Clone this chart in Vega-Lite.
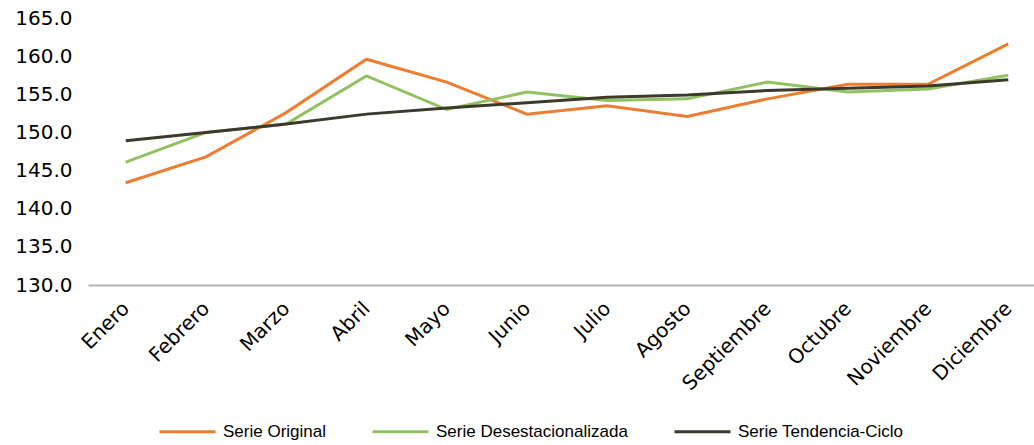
{
  "$schema": "https://vega.github.io/schema/vega-lite/v6.json",
  "autosize": {"type": "none"},
  "padding": {"left": 88, "top": 18, "right": 0, "bottom": 160},
  "width": 958,
  "height": 267,
  "background": "white",
  "config": {"view": {"stroke": null}},
  "data": {"values": [
    {"mes": "Enero", "serie": "Serie Original", "valor": 143.4},
    {"mes": "Febrero", "serie": "Serie Original", "valor": 146.8},
    {"mes": "Marzo", "serie": "Serie Original", "valor": 152.6},
    {"mes": "Abril", "serie": "Serie Original", "valor": 159.6},
    {"mes": "Mayo", "serie": "Serie Original", "valor": 156.6},
    {"mes": "Junio", "serie": "Serie Original", "valor": 152.4},
    {"mes": "Julio", "serie": "Serie Original", "valor": 153.5},
    {"mes": "Agosto", "serie": "Serie Original", "valor": 152.1},
    {"mes": "Septiembre", "serie": "Serie Original", "valor": 154.4},
    {"mes": "Octubre", "serie": "Serie Original", "valor": 156.3},
    {"mes": "Noviembre", "serie": "Serie Original", "valor": 156.3},
    {"mes": "Diciembre", "serie": "Serie Original", "valor": 161.6},
    {"mes": "Enero", "serie": "Serie Desestacionalizada", "valor": 146.1},
    {"mes": "Febrero", "serie": "Serie Desestacionalizada", "valor": 150.0},
    {"mes": "Marzo", "serie": "Serie Desestacionalizada", "valor": 151.1},
    {"mes": "Abril", "serie": "Serie Desestacionalizada", "valor": 157.4},
    {"mes": "Mayo", "serie": "Serie Desestacionalizada", "valor": 153.0},
    {"mes": "Junio", "serie": "Serie Desestacionalizada", "valor": 155.3},
    {"mes": "Julio", "serie": "Serie Desestacionalizada", "valor": 154.2},
    {"mes": "Agosto", "serie": "Serie Desestacionalizada", "valor": 154.4},
    {"mes": "Septiembre", "serie": "Serie Desestacionalizada", "valor": 156.6},
    {"mes": "Octubre", "serie": "Serie Desestacionalizada", "valor": 155.3},
    {"mes": "Noviembre", "serie": "Serie Desestacionalizada", "valor": 155.7},
    {"mes": "Diciembre", "serie": "Serie Desestacionalizada", "valor": 157.5},
    {"mes": "Enero", "serie": "Serie Tendencia-Ciclo", "valor": 148.9},
    {"mes": "Febrero", "serie": "Serie Tendencia-Ciclo", "valor": 150.0},
    {"mes": "Marzo", "serie": "Serie Tendencia-Ciclo", "valor": 151.1},
    {"mes": "Abril", "serie": "Serie Tendencia-Ciclo", "valor": 152.4},
    {"mes": "Mayo", "serie": "Serie Tendencia-Ciclo", "valor": 153.2},
    {"mes": "Junio", "serie": "Serie Tendencia-Ciclo", "valor": 153.9},
    {"mes": "Julio", "serie": "Serie Tendencia-Ciclo", "valor": 154.6},
    {"mes": "Agosto", "serie": "Serie Tendencia-Ciclo", "valor": 154.9},
    {"mes": "Septiembre", "serie": "Serie Tendencia-Ciclo", "valor": 155.5},
    {"mes": "Octubre", "serie": "Serie Tendencia-Ciclo", "valor": 155.8},
    {"mes": "Noviembre", "serie": "Serie Tendencia-Ciclo", "valor": 156.1},
    {"mes": "Diciembre", "serie": "Serie Tendencia-Ciclo", "valor": 156.9}
  ]},
  "mark": {"type": "line", "strokeWidth": 3, "strokeJoin": "miter", "strokeCap": "butt"},
  "encoding": {
    "x": {
      "field": "mes", "type": "ordinal", "sort": null,
      "scale": {"type": "point", "padding": 0.47},
      "axis": {
        "title": null, "labelAngle": -45, "labelAlign": "right", "labelBaseline": "middle",
        "labelFont": "DejaVu Sans", "labelFontSize": 20, "labelColor": "#000000",
        "labelPadding": 20, "labelDx": 3, "ticks": false, "domain": true, "domainColor": "#b4b4b4", "domainWidth": 2,
        "grid": false, "labelOverlap": false
      }
    },
    "y": {
      "field": "valor", "type": "quantitative",
      "scale": {"domain": [130, 165], "nice": false, "zero": false},
      "axis": {
        "title": null, "values": [130, 135, 140, 145, 150, 155, 160, 165], "format": ".1f",
        "labelFont": "DejaVu Sans", "labelFontSize": 20, "labelColor": "#000000",
        "labelPadding": 16, "ticks": false, "domain": false, "grid": false
      }
    },
    "color": {
      "field": "serie", "type": "nominal", "sort": ["Serie Original", "Serie Desestacionalizada", "Serie Tendencia-Ciclo"],
      "scale": {"domain": ["Serie Original", "Serie Desestacionalizada", "Serie Tendencia-Ciclo"], "range": ["#ED7D31", "#92C160", "#3C3A2C"]},
      "legend": {
        "title": null, "orient": "none", "direction": "horizontal", "legendX": 70, "legendY": 384,
        "symbolType": "stroke", "symbolSize": 3136, "symbolStrokeWidth": 3,
        "labelFont": "Liberation Sans", "labelFontSize": 17, "labelColor": "#000000",
        "labelOffset": 6, "columnPadding": 40, "labelLimit": 400
      }
    }
  }
}
